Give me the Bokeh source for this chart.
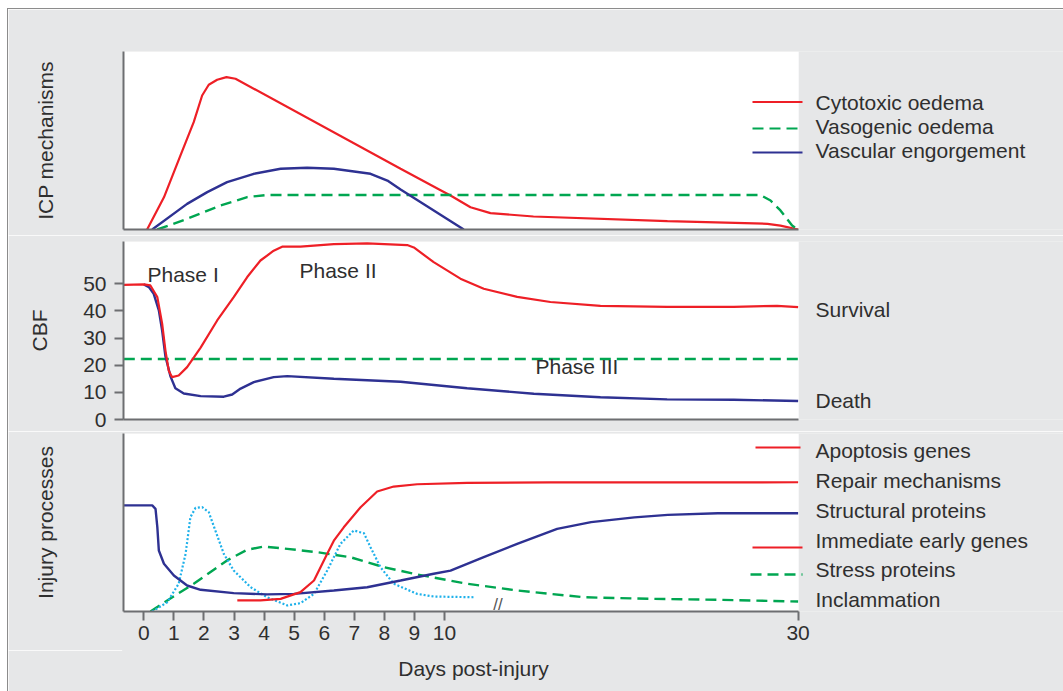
import numpy as np
from bokeh.plotting import figure
from bokeh.layouts import column
from bokeh.models import Range1d, FixedTicker, BoxAnnotation
from bokeh.core.properties import value
from bokeh.embed import file_html
from bokeh.resources import INLINE

# ---------------- data ----------------
tick_days = [0, 1, 2, 3, 4, 5, 6, 7, 8, 9, 10, 30]
cbf_ticks = [0, 10, 20, 30, 40, 50]

# Panel 1: ICP mechanisms (arbitrary units 0-100)
cyto_days = [0.11, 0.67, 1.22, 1.66, 1.94, 2.16, 2.44, 2.75, 3.05, 8.54, 9.87, 10.34, 11.47,
             12.60, 15.03, 22.61, 28.27, 29.0, 30]
cyto_vals = [0, 18.1, 41.6, 60.3, 75.3, 81.3, 84.1, 85.6, 84.7, 34.1, 22.1, 19.1, 12.5,
             9.2, 7.3, 4.7, 3.2, 2.2, 0]
vaso_days = [0.45, 1.44, 2.55, 3.44, 4.10, 27.87, 28.44, 29.0, 29.66, 30]
vaso_vals = [0, 6.0, 13.5, 18.2, 19.4, 19.4, 16.3, 10.7, 2.2, 0]
engorg_days = [0.28, 1.44, 2.11, 2.77, 3.66, 4.55, 5.43, 6.32, 7.54, 8.10, 8.54, 11.09]
engorg_vals = [0, 14.4, 21.0, 26.6, 31.3, 34.1, 34.7, 34.1, 31.3, 27.5, 22.5, 0]

# Panel 2: CBF
surv_days = [-0.665, 0, 0.22, 0.45, 0.61, 0.72, 0.83, 0.94, 1.16, 1.44, 1.89, 2.44, 2.99, 3.44,
             3.88, 4.32, 4.60, 5.21, 6.32, 7.43, 8.76, 8.98, 9.64, 10.90, 12.22, 14.11, 15.99,
             18.82, 22.59, 26.36, 28.81, 30]
surv_vals = [49.6, 49.8, 49.4, 45.1, 35.3, 25.4, 18.0, 15.6, 16.2, 19.3, 26.5, 36.5, 45.1, 52.5,
             58.6, 62.2, 63.7, 63.7, 64.6, 64.9, 64.3, 63.4, 58.0, 51.9, 48.2, 45.2, 43.3,
             41.9, 41.5, 41.5, 41.9, 41.4]
death_days = [0, 0.17, 0.33, 0.50, 0.61, 0.72, 0.89, 1.05, 1.33, 1.89, 2.66, 2.94, 3.22, 3.66,
              4.32, 4.77, 6.32, 8.54, 11.28, 15.05, 18.82, 22.59, 26.36, 30]
death_vals = [49.8, 48.8, 46.3, 40.2, 32.8, 23.2, 15.8, 11.5, 9.6, 8.6, 8.4, 9.2, 11.4, 13.8,
              15.6, 16.0, 15.0, 13.9, 11.5, 9.5, 8.2, 7.4, 7.3, 6.8]
thresh_days = [-0.665, 30]
thresh_vals = [22.3, 22.3]

# Panel 3: injury processes (arbitrary units 0-100)
struct_days = [-0.665, 0.28, 0.39, 0.45, 0.50, 0.67, 1.0, 1.44, 1.89, 2.99, 4.10, 4.99, 6.32,
               7.43, 8.54, 9.64, 10.34, 12.22, 14.11, 16.37, 18.29, 20.74, 22.63, 25.46, 30]
struct_vals = [59.6, 59.6, 57.7, 47.4, 34.3, 26.8, 20.2, 14.6, 12.2, 10.3, 9.6, 9.9, 11.8,
               13.6, 17.4, 21.2, 23.0, 30.5, 38.0, 46.4, 50.2, 52.9, 54.3, 55.2, 55.2]
repair_days = [3.11, 3.88, 4.55, 5.21, 5.66, 6.10, 6.32, 6.65, 7.21, 7.76, 8.31, 9.09, 11.28,
               15.99, 30]
repair_vals = [6.2, 6.2, 7.1, 10.9, 17.4, 32.4, 39.8, 47.3, 58.6, 67.4, 70.2, 71.5, 72.3,
               72.5, 72.6]
stress_days = [0.22, 0.78, 1.66, 2.77, 3.44, 3.99, 4.77, 5.77, 6.87, 7.98, 9.09, 11.28, 14.11,
               17.88, 21.66, 25.46, 30]
stress_vals = [0, 6.2, 15.6, 28.7, 34.7, 36.5, 35.2, 33.3, 30.5, 24.9, 20.8, 15.6, 11.8,
               8.0, 7.1, 6.6, 5.6]
infl_days = [0.28, 0.78, 1.16, 1.39, 1.55, 1.72, 1.94, 2.16, 2.38, 2.66, 2.99, 3.55, 4.10,
             4.77, 5.21, 5.66, 6.10, 6.54, 6.98, 7.32, 7.54, 7.87, 8.31, 9.09, 9.64, 11.75]
infl_vals = [0, 5.2, 15.6, 32.4, 53.0, 58.2, 58.6, 55.8, 45.5, 32.4, 23.0, 13.7, 8.0,
             3.4, 4.7, 9.9, 23.0, 38.0, 45.5, 44.0, 36.1, 24.9, 15.6, 9.9, 8.4, 8.0]

icp_legend = ["Cytotoxic oedema", "Vasogenic oedema", "Vascular engorgement"]
cbf_labels = ["Phase I", "Phase II", "Phase III", "Survival", "Death"]
injury_legend = ["Apoptosis genes", "Repair mechanisms", "Structural proteins",
                 "Immediate early genes", "Stress proteins", "Inclammation"]
axis_titles = ["ICP mechanisms", "CBF", "Injury processes", "Days post-injury"]

# ---------------- style / layout ----------------
RED, BLUE, GREEN, CYAN = "#ee1f26", "#2e3192", "#00a651", "#1fb1ea"
GRAY, AXC, TXT = "#e6e7e8", "#6d6e71", "#2f2f2f"
FONT = "Liberation Sans"
FS = "21px"
OX = 8            # page x where the figures start (margin + border)
W = 1063 - OX
LEFT = 115
BREAK, COMPRESS = 10.0, 0.588
PX0, PXU = 143.3, 30.07   # page x of day 0, pixels per day (first segment)


def xmap(d):
    d = np.asarray(d, dtype=float)
    return np.where(d <= BREAK, d, BREAK + (d - BREAK) * COMPRESS)


def px_x(px):
    return (px - PX0) / PXU


X_LEFT, X_RIGHT = px_x(OX + LEFT), px_x(OX + W)
X_END = float(xmap(30))


def base_fig(height, top, bottom, y_range, **kw):
    p = figure(width=W, height=height, x_range=Range1d(X_LEFT, X_RIGHT), y_range=y_range,
               output_backend="svg", toolbar_location=None,
               min_border_left=LEFT, min_border_right=0, min_border_top=top,
               min_border_bottom=bottom, background_fill_color=GRAY,
               border_fill_color=GRAY, outline_line_color=None, **kw)
    p.grid.visible = False
    return p


def make_panel(height, top, bottom, ymax, frame_top, frame_bottom, ylabel, standoff):
    p = base_fig(height, top, bottom, Range1d(0, ymax))
    p.add_layout(BoxAnnotation(right=X_END + 0.02, fill_color="white", fill_alpha=1,
                               line_color=None, level="underlay"))
    for ax in (p.xaxis[0], p.yaxis[0]):
        ax.axis_line_color = AXC
        ax.axis_line_width = 2
        ax.major_tick_line_color = AXC
        ax.major_tick_line_width = 2
        ax.minor_tick_line_color = None
        ax.major_tick_in = 0
        ax.major_label_text_font = FONT
        ax.major_label_text_font_size = FS
        ax.major_label_text_color = TXT
        ax.axis_label_text_font = FONT
        ax.axis_label_text_font_size = FS
        ax.axis_label_text_color = TXT
        ax.axis_label_text_font_style = "normal"
    p.xaxis.bounds = (X_LEFT, X_END)
    p.yaxis.axis_label = ylabel
    p.yaxis.axis_label_standoff = standoff
    scale = ymax / (frame_bottom - frame_top)
    return p, (lambda py: (frame_bottom - py) * scale)


def hide_ticks(ax):
    ax.ticker = FixedTicker(ticks=[])
    ax.major_label_text_font_size = "0px"
    ax.major_tick_out = 0
    ax.major_label_standoff = 0


def texts(p, xs, ys, labels, align="left", size=FS, color=TXT):
    p.text(x=xs, y=ys, text=labels, text_font=value(FONT), text_font_size=size,
           text_color=color, text_baseline="middle", text_align=align)


TXT_X = px_x(815)
SW0, SW1 = px_x(752), px_x(802)

# ---- panel 1 ----
p1, y1 = make_panel(226, 42, 6, 100, 51, 229, axis_titles[0], 67)
hide_ticks(p1.xaxis[0])
hide_ticks(p1.yaxis[0])
p1.line(xmap(cyto_days), cyto_vals, line_color=RED, line_width=2.2)
p1.line(xmap(vaso_days), vaso_vals, line_color=GREEN, line_width=2.4, line_dash="11 6")
p1.line(xmap(engorg_days), engorg_vals, line_color=BLUE, line_width=2.4)
for c, py, dash in ((RED, 101.5, "solid"), (GREEN, 128, "11 6"), (BLUE, 152, "solid")):
    p1.line([SW0, SW1], [y1(py), y1(py)], line_color=c, line_width=2.2, line_dash=dash)
texts(p1, [TXT_X] * 3, [y1(v) for v in (102, 126, 150)], icp_legend)

# ---- panel 2 ----
p2, y2 = make_panel(196, 6, 12, 65.6, 241, 419, axis_titles[1], 29)
hide_ticks(p2.xaxis[0])
p2.yaxis.ticker = FixedTicker(ticks=cbf_ticks)
p2.yaxis.major_tick_out = 9
p2.yaxis.major_label_standoff = 8
p2.line(xmap(thresh_days), thresh_vals, line_color=GREEN, line_width=2.4, line_dash="11 6")
p2.line(xmap(death_days), death_vals, line_color=BLUE, line_width=2.4)
p2.line(xmap(surv_days), surv_vals, line_color=RED, line_width=2.2)
texts(p2, [px_x(147), px_x(299), px_x(535), TXT_X, TXT_X],
      [y2(274), y2(269.5), y2(365.5), y2(309), y2(400)], cbf_labels)

# ---- panel 3 ----
p3, y3 = make_panel(219, 2, 39, 100, 433, 611, axis_titles[2], 67)
hide_ticks(p3.yaxis[0])
p3.xaxis.ticker = FixedTicker(ticks=[float(v) for v in xmap(tick_days)])
p3.xaxis.major_label_overrides = {float(xmap(d)): str(d) for d in tick_days}
p3.xaxis.major_tick_out = 9
p3.xaxis.major_label_standoff = 5
p3.line(xmap(stress_days), stress_vals, line_color=GREEN, line_width=2.4, line_dash="11 6")
p3.line(xmap(infl_days), infl_vals, line_color=CYAN, line_width=2.2, line_dash="2 2")
p3.line(xmap(struct_days), struct_vals, line_color=BLUE, line_width=2.4)
p3.line(xmap(repair_days), repair_vals, line_color=RED, line_width=2.2)
p3.line([px_x(755), px_x(800)], [y3(447), y3(447)], line_color=RED, line_width=2.2)
p3.line([SW0, SW1], [y3(547), y3(547)], line_color=RED, line_width=2.2)
p3.line([px_x(750), SW1], [y3(574), y3(574)], line_color=GREEN, line_width=2.4, line_dash="11 6")
texts(p3, [TXT_X] * 6, [y3(v) for v in (450, 480, 510, 539.5, 569, 598.5)], injury_legend)
texts(p3, [px_x(497.5)], [y3(604)], ["//"], align="center", size="17px", color="#555555")

# ---- x-axis title strip ----
p4 = base_fig(41, 0, 0, Range1d(0, 41), x_axis_type=None, y_axis_type=None)
p4.outline_line_color = GRAY
p4.outline_line_width = 3
texts(p4, [px_x(473)], [691 - 668], [axis_titles[3]], align="center")

layout = column(p1, p2, p3, p4, spacing=0,
                styles={"margin-left": "7px", "margin-top": "8px",
                        "border-left": "1px solid #8c8c8c", "border-top": "1px solid #8c8c8c"})
open("out.html", "w").write(file_html(layout, INLINE))
